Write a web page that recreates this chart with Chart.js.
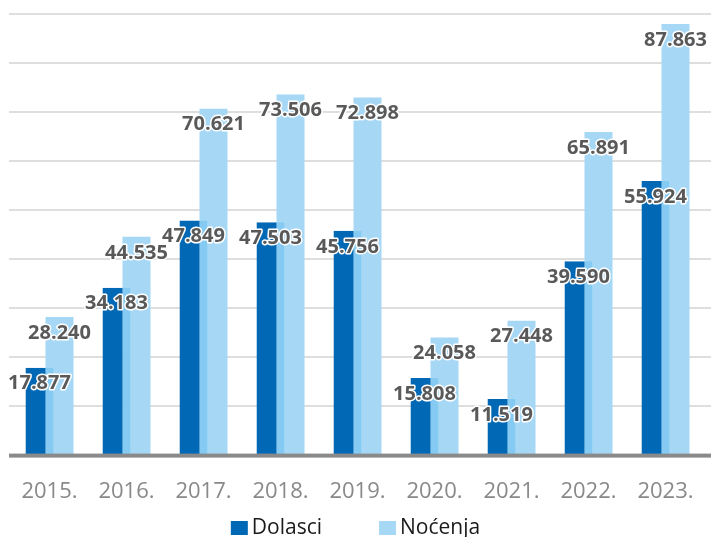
<!DOCTYPE html>
<html>
<head>
<meta charset="utf-8">
<script src="https://cdn.jsdelivr.net/npm/chart.js@4/dist/chart.umd.min.js"></script>
<style>
  html, body { margin: 0; padding: 0; background: #ffffff; }
  #wrap { width: 711px; height: 537px; }
</style>
</head>
<body>
<div id="wrap"><canvas id="c" width="711" height="537"></canvas></div>
<script>
// ---- data ----
const years = ['2015.', '2016.', '2017.', '2018.', '2019.', '2020.', '2021.', '2022.', '2023.'];
const dolasci = [17877, 34183, 47849, 47503, 45756, 15808, 11519, 39590, 55924];
const nocenja = [28240, 44535, 70621, 73506, 72898, 24058, 27448, 65891, 87863];
const seriesNames = ['Dolasci', 'Noćenja'];
const yMin = 0, yMax = 90000, yStep = 10000;

// ---- styles ----
const DARK = '#0068b4';
const LIGHT = '#a6d8f5';
const OVERLAP = '#85caf2';
const FONT = "'Open Sans', 'Noto Sans', sans-serif";

function fmt(v) {
  const s = String(Math.round(v));
  return s.replace(/\B(?=(\d{3})+(?!\d))/g, '.');
}

const gridPlugin = {
  id: 'gridPlugin',
  beforeDatasetsDraw(chart) {
    const ctx = chart.ctx, ys = chart.scales.y;
    ctx.save();
    ctx.strokeStyle = '#dedede';
    ctx.lineWidth = 2;
    ys.ticks.forEach(t => {
      if (t.value === 0) return;
      const y = Math.round(ys.getPixelForValue(t.value));
      ctx.beginPath();
      ctx.moveTo(9, y);
      ctx.lineTo(711, y);
      ctx.stroke();
    });
    ctx.restore();
  },
  afterDatasetsDraw(chart) {
    const ctx = chart.ctx, ys = chart.scales.y;
    // baseline
    const y0 = ys.getPixelForValue(0);
    ctx.save();
    ctx.fillStyle = '#8a8a8a';
    ctx.fillRect(9, y0 - 2, 702, 4);
    // data labels
    ctx.font = "bold 20px " + FONT;
    ctx.textAlign = 'center';
    ctx.textBaseline = 'middle';
    ctx.lineJoin = 'round';
    chart.data.datasets.forEach((ds, di) => {
      const meta = chart.getDatasetMeta(di);
      meta.data.forEach((el, i) => {
        const txt = fmt(ds.data[i]);
        const x = el.x, y = el.y + 16;
        ctx.strokeStyle = '#ffffff';
        ctx.lineWidth = 3;
        ctx.strokeText(txt, x, y);
        ctx.fillStyle = '#595959';
        ctx.fillText(txt, x, y);
      });
    });
    ctx.restore();
  },
  afterDraw(chart) {
    // legend
    const ctx = chart.ctx;
    ctx.save();
    ctx.font = "21px " + FONT;
    ctx.textBaseline = 'middle';
    ctx.textAlign = 'left';
    const boxW = 17, boxH = 14, gapText = 4, gapItem = 57;
    const items = chart.data.datasets.map(ds => ({ label: ds.label, color: ds.legendColor }));
    let total = 0;
    items.forEach((it, i) => {
      it.w = boxW + gapText + ctx.measureText(it.label).width;
      total += it.w + (i ? gapItem : 0);
    });
    let x = (chart.width - total) / 2;
    const cy = 528;
    items.forEach(it => {
      ctx.fillStyle = it.color;
      ctx.fillRect(x, cy - boxH / 2, boxW, boxH);
      ctx.fillStyle = '#1a1a1a';
      ctx.fillText(it.label, x + boxW + gapText, cy);
      x += it.w + gapItem;
    });
    ctx.restore();
  }
};

new Chart(document.getElementById('c'), {
  type: 'bar',
  data: {
    labels: years,
    datasets: [
      {
        label: seriesNames[0],
        data: dolasci,
        backgroundColor: DARK,
        borderColor: OVERLAP,
        borderWidth: { top: 0, left: 0, bottom: 0, right: 8 },
        borderSkipped: 'start',
        legendColor: DARK
      },
      {
        label: seriesNames[1],
        data: nocenja,
        backgroundColor: LIGHT,
        borderWidth: 0,
        legendColor: LIGHT
      }
    ]
  },
  options: {
    responsive: false,
    animation: false,
    devicePixelRatio: 1,
    layout: { padding: { top: 13.5, left: 11, right: 7, bottom: 17 } },
    datasets: { bar: { categoryPercentage: 0.52, barPercentage: 1.4 } },
    plugins: {
      legend: { display: false },
      tooltip: { enabled: false }
    },
    scales: {
      x: {
        grid: { display: false },
        border: { display: false },
        ticks: {
          color: '#898989',
          font: { family: FONT, size: 22 },
          padding: 15,
          maxRotation: 0
        }
      },
      y: {
        display: false,
        min: yMin,
        max: yMax,
        ticks: { stepSize: yStep }
      }
    }
  },
  plugins: [gridPlugin]
});
</script>
</body>
</html>
